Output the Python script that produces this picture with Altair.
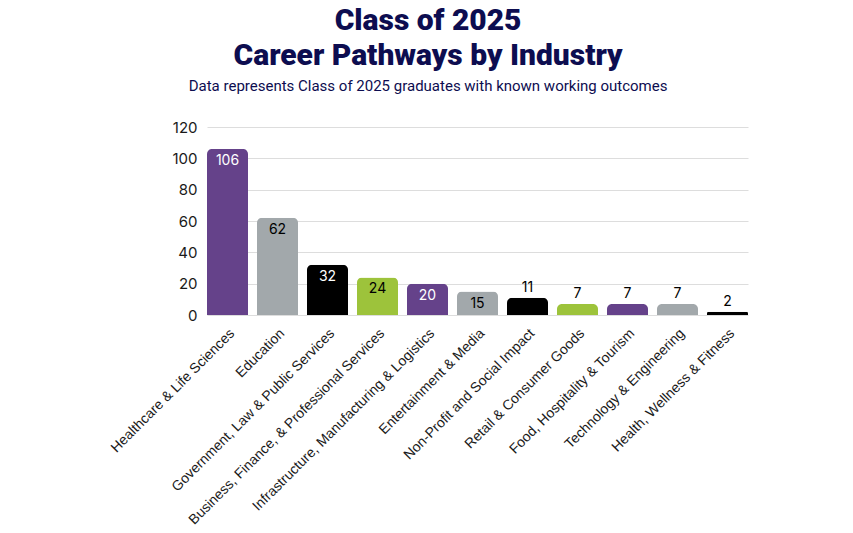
import altair as alt
import pandas as pd

categories = [
    "Healthcare & Life Sciences",
    "Education",
    "Government, Law & Public Services",
    "Business, Finance, & Professional Services",
    "Infrastructure, Manufacturing & Logistics",
    "Entertainment & Media",
    "Non-Profit and Social Impact",
    "Retail & Consumer Goods",
    "Food, Hospitality & Tourism",
    "Technology & Engineering",
    "Health, Wellness & Fitness",
]
values = [106, 62, 32, 24, 20, 15, 11, 7, 7, 7, 2]
y_ticks = [0, 20, 40, 60, 80, 100, 120]
bar_colors = ["#65428A", "#A2A8AB", "#000000", "#9DC33B"] * 3
bar_colors = bar_colors[: len(categories)]
label_colors = {"#65428A": "#FFFFFF", "#000000": "#FFFFFF", "#A2A8AB": "#000000", "#9DC33B": "#000000"}

df = pd.DataFrame({"category": categories, "value": values, "color": bar_colors})
df["lblcolor"] = df["color"].map(label_colors)
df["inside"] = df["value"] >= 15
df["lbl"] = df["value"].astype(str)

x = alt.X("category:N", sort=categories, title=None,
          scale=alt.Scale(paddingInner=0.18, paddingOuter=0),
          axis=alt.Axis(labelAngle=-45, labelAlign="right", labelBaseline="top",
                        labelFont="Liberation Sans", labelFontSize=14, labelColor="#1a1a1a",
                        labelPadding=11, ticks=False, domain=False, labelLimit=400,
                        labelOverlap=False))
y = alt.Y("value:Q", title=None,
          scale=alt.Scale(domain=[0, 120], nice=False),
          axis=alt.Axis(values=y_ticks, grid=True, gridColor="#DDDDDD",
                        ticks=False, domain=False, labelFont="Inter", labelFontSize=15,
                        labelColor="#1a1a1a", labelPadding=10, labelOverlap=False))

base = alt.Chart(df)

bars = base.mark_bar(cornerRadiusTopLeft=5, cornerRadiusTopRight=5).encode(
    x=x, y=y,
    color=alt.Color("category:N", scale=alt.Scale(domain=categories, range=bar_colors), legend=None),
)

inside = base.transform_filter("datum.inside").mark_text(
    baseline="top", dy=5, font="Inter", fontSize=14
).encode(
    x=x, y=y, text="lbl:N",
    color=alt.Color("lblcolor:N", scale=None),
)

outside = base.transform_filter("!datum.inside").mark_text(
    baseline="bottom", dy=-3, font="Inter", fontSize=14, color="#000000"
).encode(
    x=x, y=y, text="lbl:N",
)

chart = alt.layer(bars, inside, outside).properties(
    width=541, height=188,
    title=alt.TitleParams(
        text=["Class of 2025", "Career Pathways by Industry"],
        subtitle="Data represents Class of 2025 graduates with known working outcomes",
        font="Roboto", fontSize=30, fontWeight=900, color="#0D0D50", lineHeight=35,
        subtitleFont="Roboto", subtitleFontSize=15, subtitleColor="#0D0D50",
        subtitlePadding=8, anchor="middle", frame="bounds", offset=26,
    ),
    padding={"left": 207, "top": 127, "right": 105, "bottom": 218},
    autosize=alt.AutoSizeParams(type="none"),
).configure(background="#FFFFFF").configure_view(stroke=None)

chart.save("out.html", embed_options={"renderer": "svg", "actions": False})
